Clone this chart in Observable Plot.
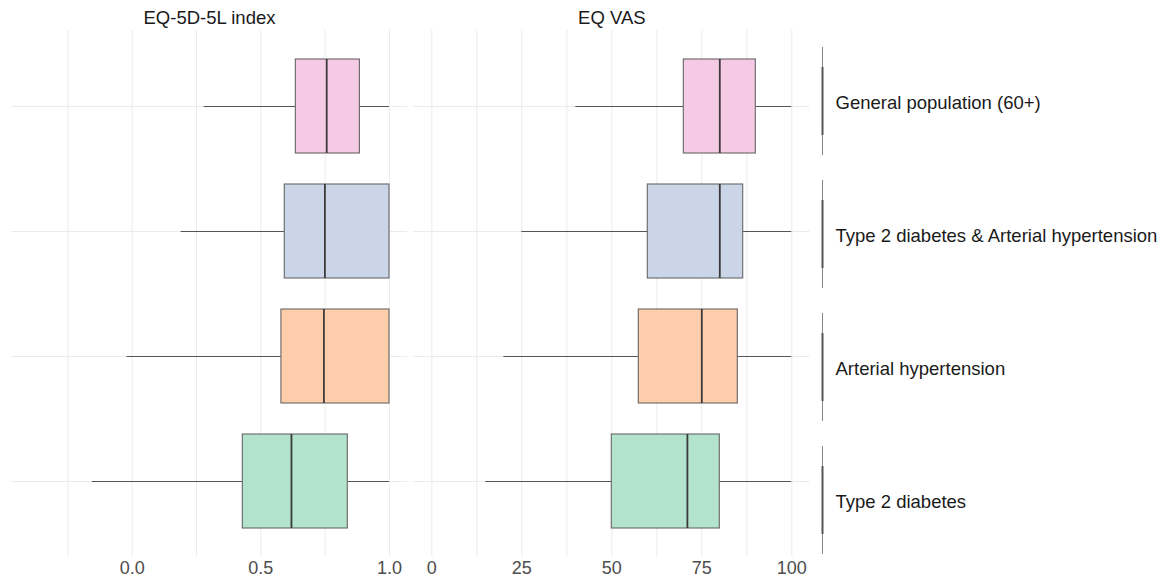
<!DOCTYPE html>
<html>
<head>
<meta charset="utf-8">
<script src="https://cdn.jsdelivr.net/npm/d3@7"></script>
<script src="https://cdn.jsdelivr.net/npm/@observablehq/plot@0.6"></script>
<style>
  body { margin: 0; background: #fff; }
  #chart { position: relative; width: 1171px; height: 583px; font-family: "Liberation Sans", Arial, sans-serif; }
  #chart svg { position: absolute; top: 0; }
</style>
</head>
<body>
<div id="chart"></div>
<script>
// Categories (top to bottom) and fill colours
const groups = [
  "General population (60+)",
  "Type 2 diabetes & Arterial hypertension",
  "Arterial hypertension",
  "Type 2 diabetes"
];
const colors = ["#F4CAE4", "#CBD5E8", "#FDCDAC", "#B3E2CD"];

// EQ-5D-5L index: whisker low, Q1, median, Q3, whisker high
const indexLow  = [0.28, 0.19, -0.02, -0.155];
const indexQ1   = [0.636, 0.593, 0.58, 0.43];
const indexMed  = [0.756, 0.749, 0.745, 0.619];
const indexQ3   = [0.885, 1.0, 1.0, 0.838];
const indexHigh = [1.0, 1.0, 1.0, 1.0];

// EQ VAS
const vasLow  = [40, 25, 20, 15];
const vasQ1   = [70, 60, 57.5, 50];
const vasMed  = [80, 80, 75, 71];
const vasQ3   = [90, 86.5, 85, 80];
const vasHigh = [100, 100, 100, 100];

// Axis ticks
const indexTicks = [0, 0.5, 1.0];
const indexMinor = [-0.25, 0.25, 0.75];
const vasTicks = [0, 25, 50, 75, 100];
const vasMinor = [12.5, 37.5, 62.5, 87.5];

const FONT = '"Liberation Sans", Arial, sans-serif';

function rows(lo, q1, med, q3, hi) {
  return groups.map((g, i) => ({group: g, color: colors[i], lo: lo[i], q1: q1[i], med: med[i], q3: q3[i], hi: hi[i]}));
}

function panel({title, data, domain, ticks, minor, fmt, width, ml, mr, left}) {
  const svg = Plot.plot({
    width, height: 583,
    marginTop: 30, marginBottom: 27, marginLeft: ml, marginRight: mr,
    style: {fontFamily: FONT, fontSize: "18px", background: "transparent", overflow: "visible"},
    x: {domain},
    y: {domain: groups, paddingInner: 0.25, paddingOuter: 0.224, align: 0.5, axis: null},
    color: {type: "identity"},
    marks: [
      Plot.gridX([...ticks, ...minor], {stroke: "#ebebeb", strokeOpacity: 1, strokeWidth: 1}),
      Plot.gridY(groups, {stroke: "#ebebeb", strokeOpacity: 1, strokeWidth: 1}),
      Plot.ruleY(data, {y: "group", x1: "lo", x2: "q1", stroke: "#555", strokeWidth: 1}),
      Plot.ruleY(data, {y: "group", x1: "q3", x2: "hi", stroke: "#555", strokeWidth: 1}),
      Plot.barX(data, {y: "group", x1: "q1", x2: "q3", fill: "color", stroke: "#666", strokeWidth: 1.1}),
      Plot.tickX(data, {y: "group", x: "med", stroke: "#3a3a3a", strokeWidth: 1.8}),
      Plot.axisX({ticks, tickFormat: fmt, tickSize: 0, tickPadding: 5, fill: "#4d4d4d", fontSize: 18, label: null}),
      Plot.text([title], {text: d => d, frameAnchor: "top", dy: -12, lineAnchor: "middle", fontSize: 18.5, fill: "#1a1a1a"})
    ]
  });
  svg.style.left = left + "px";
  return svg;
}

const chart = document.getElementById("chart");

chart.appendChild(panel({
  title: "EQ-5D-5L index",
  data: rows(indexLow, indexQ1, indexMed, indexQ3, indexHigh),
  domain: [-0.469, 1.070],
  ticks: indexTicks, minor: indexMinor, fmt: d3.format(".1f"),
  width: 410, ml: 11, mr: 3, left: 0
}));

chart.appendChild(panel({
  title: "EQ VAS",
  data: rows(vasLow, vasQ1, vasMed, vasQ3, vasHigh),
  domain: [-5, 105],
  ticks: vasTicks, minor: vasMinor, fmt: d3.format("d"),
  width: 400, ml: 3.3, mr: 0.7, left: 410
}));

const strip = Plot.plot({
  width: 371, height: 583,
  marginTop: 46, marginBottom: 28, marginLeft: 22, marginRight: 0,
  style: {fontFamily: FONT, fontSize: "18px", background: "transparent", overflow: "visible"},
  x: {domain: [0, 1], axis: null},
  fy: {domain: groups, paddingInner: 0.19, paddingOuter: 0, axis: null},
  marks: [
    Plot.ruleX([0], {stroke: "#888", strokeWidth: 1}),
    Plot.ruleX([0], {stroke: "#555", strokeWidth: 2, insetTop: 20, insetBottom: 20}),
    Plot.text(groups, {fy: d => d, text: d => d, frameAnchor: "left", dx: 13, dy: 2, textAnchor: "start", fontSize: 18.5, fill: "#1a1a1a"})
  ]
});
strip.style.left = "800px";
chart.appendChild(strip);
</script>
</body>
</html>
